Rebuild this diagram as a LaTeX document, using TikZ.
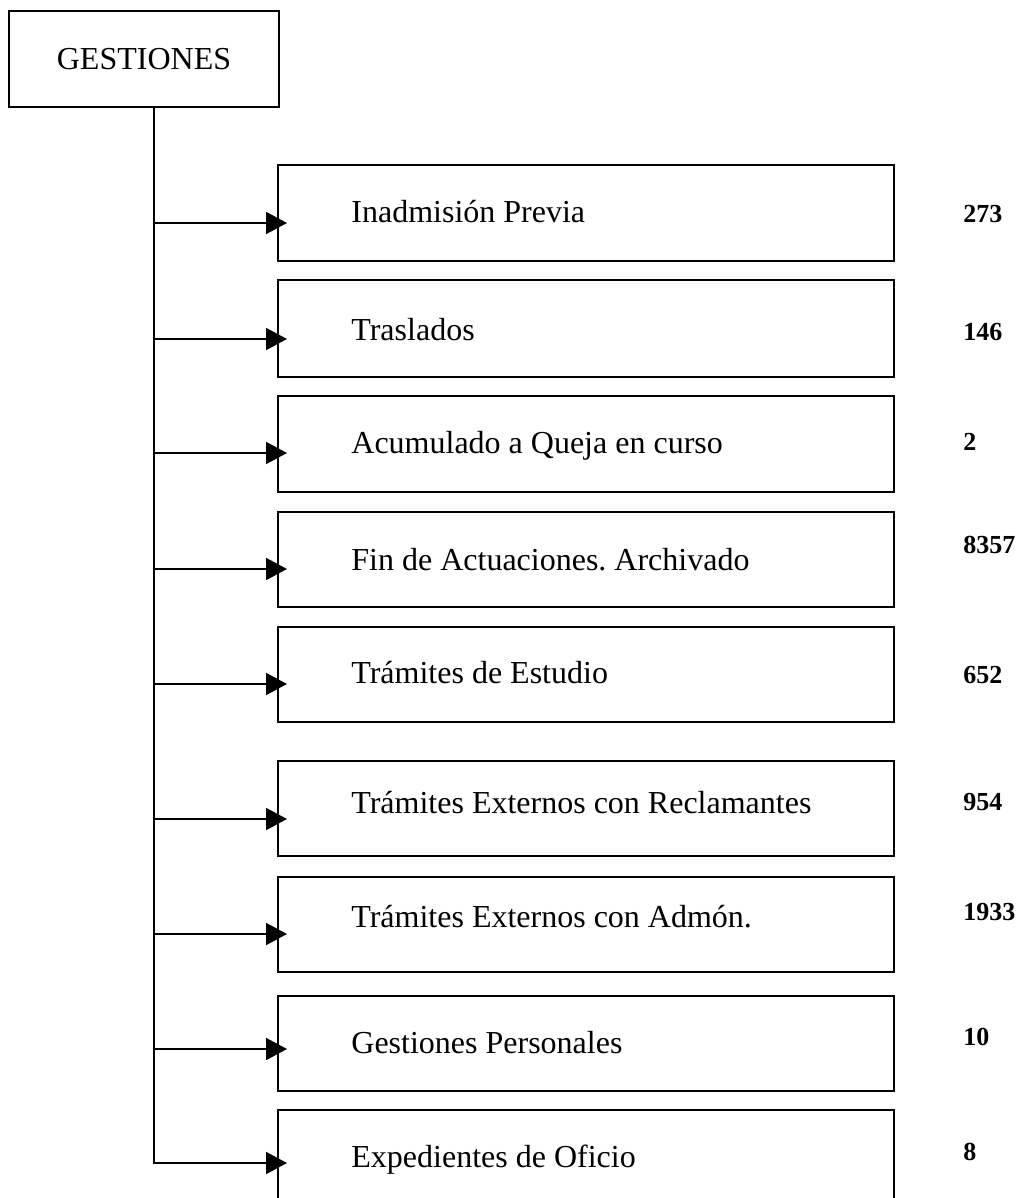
\documentclass[tikz,border=0pt]{standalone}
\usepackage{fontspec}
\setmainfont{Liberation Serif}
\usetikzlibrary{arrows.meta}
\frenchspacing
\tikzset{
  caja/.style={draw,line width=1pt,minimum width=308pt,minimum height=47.5pt,inner sep=0pt},
  etiq/.style={anchor=base west,inner sep=0pt,font=\fontsize{16}{19}\selectfont},
  cifra/.style={anchor=base west,inner sep=0pt,font=\fontsize{13}{16}\selectfont\bfseries},
  flecha/.style={line width=0.9pt,-{Triangle[length=10.5pt,width=11pt]}}
}
\begin{document}
\begin{tikzpicture}[x=0.5pt,y=-0.5pt,line cap=butt,line join=miter]
		\useasboundingbox (0,0) rectangle (1021,1198);
		\node[caja,minimum width=135pt,minimum height=48pt,font=\fontsize{16}{19}\selectfont] (gest) at (144,59) {GESTIONES};
		% cajas
		\node[caja,minimum height=48pt] (b1) at (586,213) {};
		\node[caja,minimum height=48.5pt] (b2) at (586,328.5) {};
		\node[caja,minimum height=48pt] (b3) at (586,444) {};
		\node[caja] (b4) at (586,559.5) {};
		\node[caja] (b5) at (586,674.5) {};
		\node[caja] (b6) at (586,808.5) {};
		\node[caja] (b7) at (586,924.5) {};
		\node[caja] (b8) at (586,1043.5) {};
		\node[caja] (b9) at (586,1157.5) {};
		% tronco
		\coordinate (t0) at (154,107);
		\coordinate (t1) at (154,223);
		\coordinate (t2) at (154,339);
		\coordinate (t3) at (154,453);
		\coordinate (t4) at (154,569);
		\coordinate (t5) at (154,684);
		\coordinate (t6) at (154,819);
		\coordinate (t7) at (154,934);
		\coordinate (t8) at (154,1049);
		\coordinate (t9) at (154,1163);
		\draw[flecha] (t0)--(t9)--([xshift=5pt]b9.west |- t9);
		\draw[flecha] (t1)--([xshift=5pt]b1.west |- t1);
		\draw[flecha] (t2)--([xshift=5pt]b2.west |- t2);
		\draw[flecha] (t3)--([xshift=5pt]b3.west |- t3);
		\draw[flecha] (t4)--([xshift=5pt]b4.west |- t4);
		\draw[flecha] (t5)--([xshift=5pt]b5.west |- t5);
		\draw[flecha] (t6)--([xshift=5pt]b6.west |- t6);
		\draw[flecha] (t7)--([xshift=5pt]b7.west |- t7);
		\draw[flecha] (t8)--([xshift=5pt]b8.west |- t8);
		% textos
		\node[etiq] (l1) at (351,223) {Inadmisión Previa};
		\node[etiq] (l2) at (351,340) {Traslados};
		\node[etiq] (l3) at (351,453) {Acumulado a Queja en curso};
		\node[etiq] (l4) at (351,570) {Fin de Actuaciones. Archivado};
		\node[etiq] (l5) at (351,683) {Trámites de Estudio};
		\node[etiq] (l6) at (351,813) {Trámites Externos con Reclamantes};
		\node[etiq] (l7) at (351,927) {Trámites Externos con Admón.};
		\node[etiq] (l8) at (351,1053) {Gestiones Personales};
		\node[etiq] (l9) at (351,1167) {Expedientes de Oficio};
		% cifras
		\node[cifra] (n1) at (963,223) {273};
		\node[cifra] (n2) at (963,340) {146};
		\node[cifra] (n3) at (963,450) {2};
		\node[cifra] (n4) at (963,553) {8357};
		\node[cifra] (n5) at (963,683) {652};
		\node[cifra] (n6) at (963,810) {954};
		\node[cifra] (n7) at (963,920) {1933};
		\node[cifra] (n8) at (963,1045) {10};
		\node[cifra] (n9) at (963,1160) {8};
	\end{tikzpicture}
\end{document}
